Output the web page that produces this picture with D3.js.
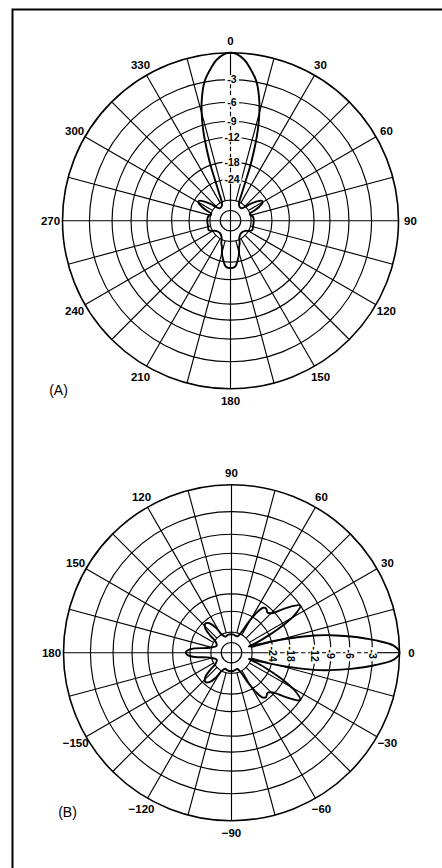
<!DOCTYPE html>
<html>
<head>
<meta charset="utf-8">
<script src="https://cdn.jsdelivr.net/npm/d3@7"></script>
<style>
  html, body { margin: 0; padding: 0; background: #fff; }
  svg { display: block; }
  text { font-family: "Liberation Sans", Arial, Helvetica, sans-serif; fill: #000; }
</style>
</head>
<body>
<svg id="chart" width="442" height="868"></svg>
<script>
// Grid rings (dB below maximum) and the rings that carry a printed value
const ringLevels = [0, 3, 6, 9, 12, 18, 24, 36, 48];
const ringLabels = [3, 6, 9, 12, 18, 24];

// Angle ticks around the rim
const tickAngles = [0, 30, 60, 90, 120, 150, 180, 210, 240, 270, 300, 330];
const tickLabelsA = ["0", "30", "60", "90", "120", "150", "180", "210", "240", "270", "300", "330"];
const tickLabelsB = ["0", "30", "60", "90", "120", "150", "180", "\u2212150", "\u2212120", "\u221290", "\u221260", "\u221230"];

// Pattern (A): compass bearing (deg, clockwise from 0 at top) and relative response (dB down)
const patternAAngle = [0, 2, 5, 7, 10.5, 13.7, 16, 17.5, 19.6, 20.8, 22.5, 25, 30, 40, 46, 50, 54, 58, 61, 64, 67, 70, 74, 78, 85, 95, 105, 113, 118, 125, 140, 152, 158, 162, 166, 169.5, 174, 180,
  186, 190.5, 194, 198, 202, 208, 220, 235, 242, 247, 255, 265, 275, 282, 286, 290, 293, 296, 299, 302, 306, 310, 314, 320, 330, 335, 337.5, 339.2, 340.4, 342.5, 344, 346.3, 349.5, 353, 355, 358];
const patternADb = [0, 0.1, 0.7, 1.4, 2.9, 5.5, 8.5, 11.4, 17.3, 23, 30, 36, 39, 40, 37, 32, 28, 25.8, 26.2, 28.5, 32, 36, 36, 34.5, 34, 34, 34, 33.5, 35, 38.5, 40, 37.5, 33, 31, 27, 24.7, 22.2, 21.7,
  22.2, 24.7, 27, 31, 33, 37.5, 40, 38.5, 35, 33.5, 34, 34, 34, 34.5, 36, 36, 32, 28.5, 26.2, 25.8, 28, 32, 37, 40, 39, 36, 30, 23, 17.3, 11.4, 8.5, 5.5, 2.9, 1.4, 0.7, 0.1];

// Pattern (B): angle (deg, counter-clockwise from 0 at right) and relative response (dB down)
const patternBAngle = [0, 2.5, 5, 7.7, 10, 11.8, 13.8, 15.5, 17, 18.7, 20, 22, 25, 28, 31, 34.5, 37, 40, 44, 48, 52, 55, 58, 61, 64, 70, 85, 100, 112, 118, 122, 127, 132, 137, 141, 145, 155, 165, 169, 173.4, 176.5, 180,
  -176.5, -173.4, -169, -165, -155, -145, -141, -137, -132, -127, -122, -118, -112, -100, -85, -70, -64, -61, -58, -55, -52, -48, -44, -40, -37, -34.5, -31, -28, -25, -22, -20, -18.7, -17, -15.5, -13.8, -11.8, -10, -7.7, -5, -2.5];
const patternBDb = [0, 0.6, 2.7, 5.7, 8.8, 11.9, 17.5, 23.5, 30, 36, 38, 31, 24, 18, 14, 12, 13.2, 15.5, 18.5, 19.5, 18.8, 19.2, 22, 27, 34, 39, 38, 38, 39, 36, 30, 26, 25, 26.5, 31, 37, 40, 36, 33, 25.9, 23.2, 22.3,
  23.2, 25.9, 33, 36, 40, 37, 31, 26.5, 25, 26, 30, 36, 39, 38, 38, 39, 34, 27, 22, 19.2, 18.8, 19.5, 18.5, 15.5, 13.2, 12, 14, 18, 24, 31, 38, 36, 30, 23.5, 17.5, 11.9, 8.8, 5.7, 2.7, 0.6];

const svg = d3.select("#chart");
const R = 168;
const rad = d => d * Math.PI / 180;

// Frame around the figure
svg.append("path")
  .attr("d", "M12.5,868V9.5H442")
  .attr("fill", "none").attr("stroke", "#000").attr("stroke-width", 2);

function drawPolar(cx, cy, toScreen, tickLabels, labelRot, angles, dbs, caption, capX, capY) {
  // radius follows a logarithmic dB scale: radius ∝ (power ratio)^0.253
  const rScale = d3.scalePow().exponent(0.25305).domain([0, 1]).range([0, R]);
  const r = db => rScale(Math.pow(10, -db / 10));

  const g = svg.append("g").attr("transform", `translate(${cx},${cy})`);
  const grid = g.append("g").attr("fill", "none").attr("stroke", "#000");

  // concentric rings
  grid.selectAll("circle").data(ringLevels).join("circle")
    .attr("r", d => r(d))
    .attr("stroke-width", d => d === 0 ? 1.6 : 1.15);

  // radial spokes every 15 degrees
  const spokes = d3.range(0, 360, 15);
  const inner = r(36);
  const axisRot = toScreen(0); // screen bearing of the labelled axis
  spokes.forEach(s => {
    const a = rad(s);
    const main = s % 90 === 0;
    const pts = [];
    if (!main) {
      pts.push([inner, R]);
    } else if (((s - axisRot) % 360 + 360) % 360 === 0) {
      pts.push([0, r(24)], [r(3), R]);
      grid.append("line")
        .attr("x1", r(24) * Math.sin(a)).attr("y1", -r(24) * Math.cos(a))
        .attr("x2", r(3) * Math.sin(a)).attr("y2", -r(3) * Math.cos(a))
        .attr("stroke-width", 1.15).attr("stroke-dasharray", "4.5,2.5");
    } else {
      pts.push([0, R]);
    }
    pts.forEach(([r0, r1]) => {
      grid.append("line")
        .attr("x1", r0 * Math.sin(a)).attr("y1", -r0 * Math.cos(a))
        .attr("x2", r1 * Math.sin(a)).attr("y2", -r1 * Math.cos(a))
        .attr("stroke-width", 1.15);
    });
  });

  // values printed along the reference axis
  const lab = g.append("g").attr("transform", `rotate(${labelRot})`);
  const items = lab.selectAll("g").data(ringLabels).join("g")
    .attr("transform", d => `translate(1.5,${-r(d)})`);
  items.append("rect")
    .attr("x", d => d >= 10 ? -9.5 : -7).attr("y", -4.5)
    .attr("width", d => d >= 10 ? 19 : 14).attr("height", 9)
    .attr("fill", "#fff");
  items.append("text")
    .attr("text-anchor", "middle").attr("dy", "0.36em")
    .attr("font-size", 10.5).attr("font-weight", "bold")
    .text(d => "-" + d);

  // the radiation pattern
  const pts = angles.map((a, i) => ({ a: a, db: dbs[i] }));
  const line = d3.lineRadial()
    .angle(d => rad(toScreen(d.a)))
    .radius(d => r(d.db))
    .curve(d3.curveCatmullRomClosed.alpha(0.5));
  g.append("path")
    .attr("d", line(pts))
    .attr("fill", "none").attr("stroke", "#000")
    .attr("stroke-width", 1.9).attr("stroke-linejoin", "round");

  // rim labels
  g.selectAll("text.tick").data(tickAngles).join("text")
    .attr("class", "tick")
    .attr("x", d => (R + 12) * Math.sin(rad(toScreen(d))))
    .attr("y", d => -(R + 12) * Math.cos(rad(toScreen(d))))
    .attr("dy", "0.36em")
    .attr("text-anchor", "middle")
    .attr("font-size", 11.5).attr("font-weight", "bold")
    .text((d, i) => tickLabels[i]);

  svg.append("text")
    .attr("x", capX).attr("y", capY).attr("dy", "0.36em")
    .attr("text-anchor", "middle").attr("font-size", 14)
    .text(caption);
}

// (A): bearings clockwise from the top
drawPolar(230.5, 220.7, a => a, tickLabelsA, 0, patternAAngle, patternADb, "(A)", 58.5, 390);
// (B): angles counter-clockwise from the right
drawPolar(231.5, 652.7, a => 90 - a, tickLabelsB, 90, patternBAngle, patternBDb, "(B)", 67.5, 811.7);
</script>
</body>
</html>
